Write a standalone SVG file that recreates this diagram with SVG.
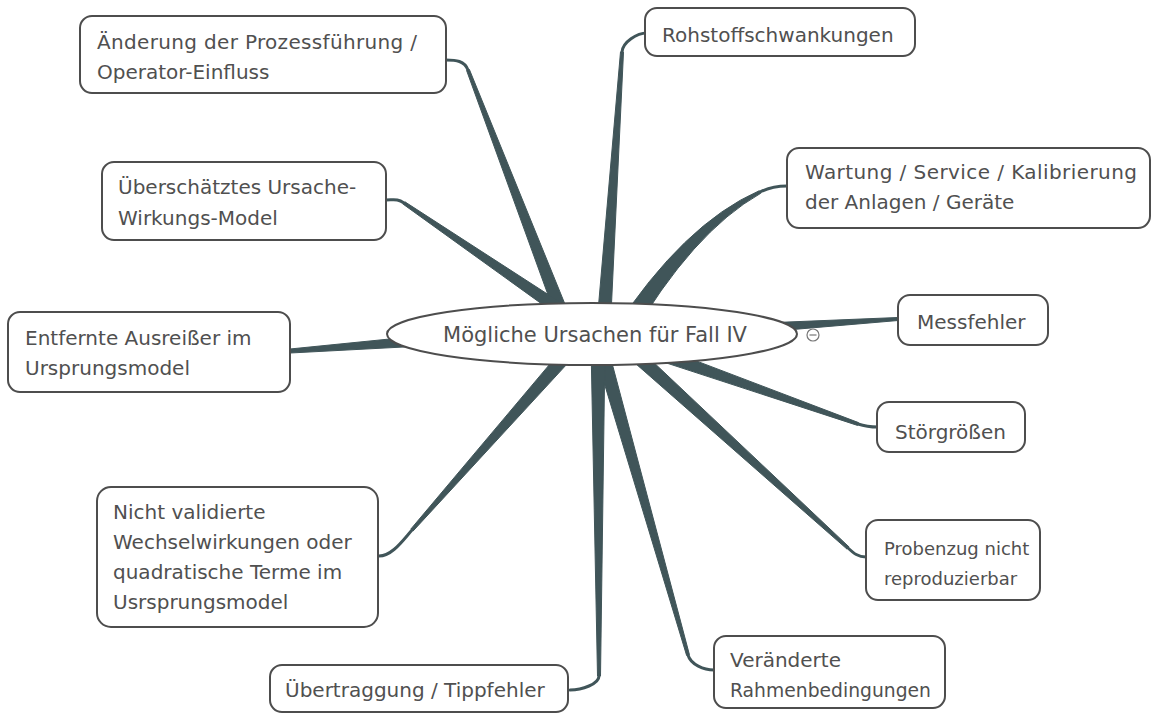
<svg xmlns="http://www.w3.org/2000/svg" width="1156" height="715" viewBox="0 0 1156 715">
<style>
.box{fill:#fff;stroke:#4d4d4d;stroke-width:2}
.t{font-family:"DejaVu Sans",sans-serif;font-size:20px;fill:#505050}
.br{fill:#405559;stroke:#405559;stroke-width:1;stroke-linejoin:round}
.hk{fill:none;stroke:#405559;stroke-width:3;stroke-linecap:round}
</style>
<rect width="1156" height="715" fill="#fff"/>
<g id="connectors">
<polygon class="br" points="576.5,332.5 469.4,69.5 466.6,70.5 563.5,337.5"/>
<path class="hk" d="M468,70 C464.4,60.7 456,60 446,60"/>
<polygon class="br" points="610,335.5 623.5,52.1 620.5,51.9 596,334.5"/>
<path class="hk" d="M622,52 C622.7,42 637,33 647,33"/>
<polygon class="br" points="594,324.2 404.9,201.8 403.2,204.2 586,335.8"/>
<path class="hk" d="M404,203 C397.4,198.5 394,200 386,200"/>
<path class="br" d="M630,339.5 Q692.5,232 760.7,193.3 L759.3,190.7 Q683.5,224 614,330.5 Z"/>
<path class="hk" d="M760,192 C768,188 777,186 787,186"/>
<polygon class="br" points="740.3,334 898.1,320.5 897.9,317.5 739.7,324"/>
<polygon class="br" points="459.5,332 289.9,349 290.2,353 460.5,344"/>
<polygon class="br" points="637.7,353.6 857.5,425.4 858.5,422.6 642.3,340.4"/>
<path class="hk" d="M858,424 C864,426 870,427 878,427"/>
<polygon class="br" points="569.8,340.4 410.9,529 413.1,531 580.3,349.6"/>
<path class="hk" d="M412,530 C402.7,540.5 392,556 379,556"/>
<polygon class="br" points="620.3,350.2 847,549.1 849,546.9 629.7,339.8"/>
<path class="hk" d="M848,548 C854,553.5 858,557 866,557"/>
<polygon class="br" points="593.3,346.9 686.6,655.4 689.4,654.6 606.7,343.1"/>
<path class="hk" d="M688,655 C690.7,664.6 704,670 714,670"/>
<polygon class="br" points="591,345 597.5,676 600.5,676 605,345"/>
<path class="hk" d="M599,676 C599,684 582,690 570,690"/>
</g>
<g id="center">
<ellipse cx="592" cy="334" rx="205" ry="31" fill="#fff" stroke="#4d4d4d" stroke-width="2"/>
<text class="t" x="595" y="342" text-anchor="middle" style="font-size:21px">Mögliche Ursachen für Fall IV</text>
<circle cx="813" cy="335" r="6" fill="#fff" stroke="#777" stroke-width="1.2"/>
<line x1="809.5" y1="335" x2="816.5" y2="335" stroke="#777" stroke-width="1.2"/>
</g>
<g id="n1"><rect class="box" x="80" y="16" width="366" height="77" rx="12"/>
<text class="t" x="97" y="49" textLength="320">Änderung der Prozessführung /</text>
<text class="t" x="97" y="79">Operator-Einfluss</text></g>
<g id="n2"><rect class="box" x="645" y="8" width="270" height="48" rx="12"/>
<text class="t" x="662" y="42">Rohstoffschwankungen</text></g>
<g id="n3"><rect class="box" x="102" y="162" width="284" height="78" rx="12"/>
<text class="t" x="118" y="194">Überschätztes Ursache-</text>
<text class="t" x="118" y="225">Wirkungs-Model</text></g>
<g id="n4"><rect class="box" x="787" y="148" width="363" height="80" rx="12"/>
<text class="t" x="805" y="179" textLength="332">Wartung / Service / Kalibrierung</text>
<text class="t" x="805" y="209">der Anlagen / Geräte</text></g>
<g id="n5"><rect class="box" x="898" y="295" width="150" height="50" rx="12"/>
<text class="t" x="917" y="329">Messfehler</text></g>
<g id="n6"><rect class="box" x="8" y="312" width="282" height="80" rx="12"/>
<text class="t" x="25" y="345">Entfernte Ausreißer im</text>
<text class="t" x="25" y="375">Ursprungsmodel</text></g>
<g id="n7"><rect class="box" x="877" y="402" width="148" height="50" rx="12"/>
<text class="t" x="895" y="439">Störgrößen</text></g>
<g id="n8"><rect class="box" x="97" y="487" width="281" height="140" rx="14"/>
<text class="t" x="113" y="519">Nicht validierte</text>
<text class="t" x="113" y="549">Wechselwirkungen oder</text>
<text class="t" x="113" y="579">quadratische Terme im</text>
<text class="t" x="113" y="609">Usrsprungsmodel</text></g>
<g id="n9"><rect class="box" x="866" y="520" width="174" height="80" rx="12"/>
<text class="t" x="884" y="555" style="font-size:18px">Probenzug nicht</text>
<text class="t" x="884" y="585" style="font-size:18px">reproduzierbar</text></g>
<g id="n10"><rect class="box" x="714" y="636" width="231" height="72" rx="12"/>
<text class="t" x="730" y="667">Veränderte</text>
<text class="t" x="730" y="697" textLength="201" lengthAdjust="spacingAndGlyphs">Rahmenbedingungen</text></g>
<g id="n11"><rect class="box" x="270" y="665" width="298" height="47" rx="12"/>
<text class="t" x="285" y="697">Übertraggung / Tippfehler</text></g>
</svg>
